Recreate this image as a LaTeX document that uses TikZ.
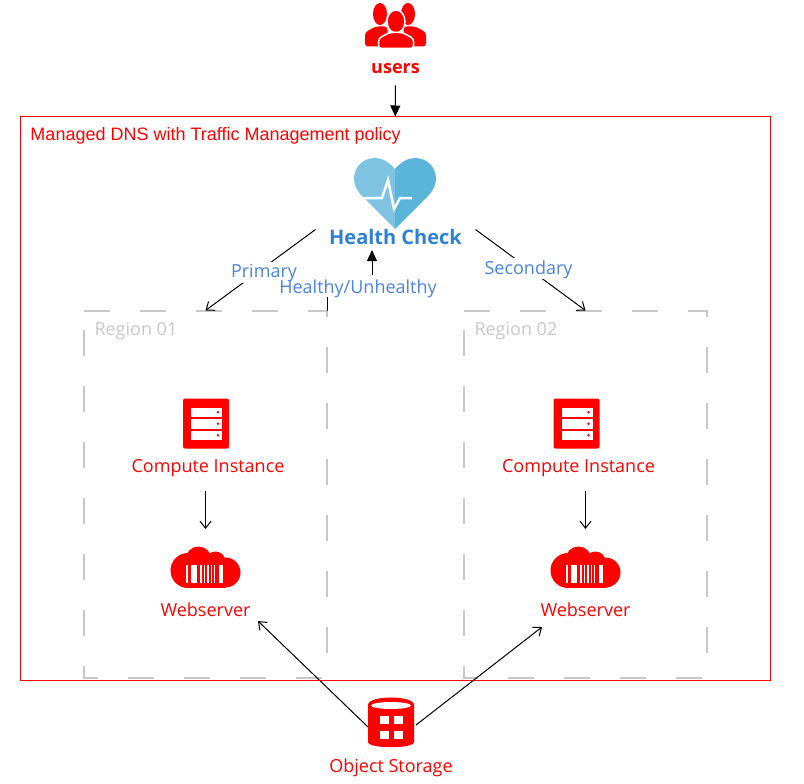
\documentclass[tikz,border=0pt]{standalone}
\usepackage{fontspec}
\setmainfont{Open Sans}
\newfontfamily\dnsfont{Liberation Sans}
\usetikzlibrary{arrows.meta}
\definecolor{regiongray}{HTML}{C8C8C8}
\definecolor{labelblue}{HTML}{4A84DC}
\definecolor{checkblue}{HTML}{2F80D2}
\definecolor{heartlight}{HTML}{7EC3E1}
\definecolor{heartdark}{HTML}{5BB4DA}
\tikzset{
    redlabel/.style={text=red,font=\fontsize{18}{22}\selectfont,inner sep=0pt},
    bluelabel/.style={text=labelblue,font=\fontsize{18}{22}\selectfont,inner sep=0pt,text height=16pt,text depth=5pt},
    iconbox/.style={inner sep=0pt,outer sep=0pt},
    usersicon/.pic={
        \fill[red] (-15.5,-10.5) ellipse (7pt and 11pt) (12.5,-10.5) ellipse (7pt and 11pt);
        \fill[red,rounded corners=3pt] (-30.5,22) -- (-30.5,8) -- (-20,2) -- (-8,2) -- (-8,22) -- cycle;
        \fill[red,rounded corners=3pt] (30.5,22) -- (30.5,8) -- (20,2) -- (8,2) -- (8,22) -- cycle;
        \fill[red,draw=white,line width=1.5pt] (0.5,-3) ellipse (9pt and 11.5pt);
        \fill[red,draw=white,line width=1.5pt,rounded corners=3pt] (-17,24) -- (-17,14) -- (-6,8) -- (7,8) -- (18,14) -- (18,24) -- cycle;
    },
    hearticon/.pic={
        \fill[heartlight] (0,-25) .. controls (-6,-32) and (-13,-36) .. (-20,-36) .. controls (-32,-36) and (-41,-27) .. (-41,-15) .. controls (-41,-8) and (-37,-2) .. (-33,2) -- (0,35) -- cycle;
        \fill[heartdark] (0,-25) .. controls (6,-32) and (13,-36) .. (20,-36) .. controls (32,-36) and (41,-27) .. (41,-15) .. controls (41,-8) and (37,-2) .. (33,2) -- (0,35) -- cycle;
        \draw[white,line width=2.5pt] (-32,4) -- (-13,4) -- (-7,-14) -- (-1,15) -- (5,4) -- (17,4);
    },
    servericon/.pic={
        \fill[red,rounded corners=2pt] (-23,-25) rectangle (23,25);
        \foreach \y in {-16,-4.5,7} {
            \fill[white] (-15,\y) rectangle (16,\y+9.5);
            \fill[red] (12,\y+4.8) circle (1.4pt);
        }
    },
    cloudicon/.pic={
        \fill[red] (-17.5,3) circle (17.5pt) (-7,-8) circle (13pt) (10,-6) circle (10pt) (20,5) circle (15pt);
        \fill[red] (-17,0) rectangle (20,20.5);
        % Barcode
        \foreach \a/\b in {-19.5/-17.8,-14.5/-8.5,-5.5/-3.8,-1.5/-0.5,1.8/3.5,5.5/6.5,8.8/9.5,13.5/17.8} {
            \fill[white] (\a,-2.5) rectangle (\b,15.5);
        }
    },
    bucketicon/.pic={
        \fill[red] (-23,-18) .. controls (-23,-28) and (23,-28) .. (23,-18) -- (23,19) .. controls (23,26) and (-23,26) .. (-23,19) -- cycle;
        \fill[white] (0,-17.5) ellipse (20pt and 3.5pt);
        \foreach \x in {-11,3} {
            \foreach \y in {-7.5,7.5} {
                \fill[white] (\x,\y) rectangle (\x+8.5,\y+8);
            }
        }
    }
}
\begin{document}
\begin{tikzpicture}[x=1pt,y=-1pt,line width=1pt,>={Straight Barb[length=7pt,width=11pt]},
    filledtip/.style={-{Triangle[length=11pt,width=10pt]}}]
    \useasboundingbox (0,0) rectangle (804,784);

    % Users on top
    \node[iconbox,minimum width=61pt,minimum height=45pt] (usersimg) at (395.5,24.5) {};
    \pic at (usersimg) {usersicon};
    \node[redlabel,font=\fontsize{18}{22}\selectfont\bfseries,minimum height=32pt] (users) at (395.5,69) {users};

    % DNS box
    \node[draw=red,inner sep=0pt,minimum width=750pt,minimum height=563pt] (dns) at (395.25,398.5) {};
    \node[anchor=west,inner sep=0pt,text=red,font=\dnsfont\fontsize{18}{22}\selectfont] (dnstitle) at (30,136) {Managed DNS with Traffic Management policy};

    % Health check
    \node[iconbox,minimum width=82pt,minimum height=71pt] (heart) at (395,194) {};
    \pic at (heart) {hearticon};
    \node[text=checkblue,font=\fontsize{20}{24}\selectfont\bfseries,inner sep=0pt,minimum width=159pt,text height=14pt,text depth=0pt] (health) at (395.5,237) {Health Check};
    \coordinate (healthin) at (372,250);
    \coordinate (hcbend) at (372,287);

    % Regions
    \foreach \n/\x/\c in {1/205.5/206,2/585.5/576.5} {
        \node[inner sep=0pt,minimum width=242.5pt,minimum height=366pt] (region\n) at (\x,494) {};
        \draw[regiongray,line width=2pt,dash pattern=on 26pt off 30pt] (region\n.north west) -- (region\n.north east) -- (region\n.south east) -- (region\n.south west) -- cycle;
        \node[anchor=west,inner sep=0pt,text=regiongray,font=\fontsize{18}{22}\selectfont] (regionlabel\n) at (\x-111.5,331) {Region 0\n};

        \node[iconbox,minimum width=46pt,minimum height=50pt] (server\n) at (\c,423.5) {};
        \pic at (server\n) {servericon};
        \node[redlabel] (compute\n) at (\c+2,468) {Compute Instance};

        \node[iconbox,minimum width=70pt,minimum height=41pt] (cloud\n) at (\x,567.5) {};
        \pic at (cloud\n) {cloudicon};
        \node[redlabel] (web\n) at (\x,610) {Webserver};

        \draw[->,shorten <=42pt,shorten >=18pt] (server\n.south -| cloud\n.north) -- (cloud\n.north);
    }

    % Object storage
    \node[iconbox,minimum width=46pt,minimum height=50pt] (bucket) at (391,723) {};
    \pic at (bucket) {bucketicon};
    \node[redlabel] (storage) at (391,768) {Object Storage};
    \coordinate (webin1) at (258,621);
    \coordinate (webin2) at (542,627);
    \draw[->] ([yshift=-4pt]bucket.west) -- (webin1);
    \draw[->] ([xshift=2pt,yshift=-2pt]bucket.east) -- (webin2);

    % Connectors
    \draw[filledtip] (users.south) -- (dns.north);
    \draw[->] (health.north west) -- (region1.north);
    \draw[->] (health.north east) -- (region2.north);
    \draw[filledtip] (region1.north east) |- (hcbend) -- (healthin);

    % Labels on the connectors
    \fill[white] (300,275) rectangle (437,297);
    \node[bluelabel,fill=white] (primary) at (264,272.2) {Primary};
    \node[bluelabel,fill=white] (secondary) at (528.5,268.5) {Secondary};
    \node[bluelabel] (healthy) at (358,287.7) {Healthy/Unhealthy};
\end{tikzpicture}
\end{document}
